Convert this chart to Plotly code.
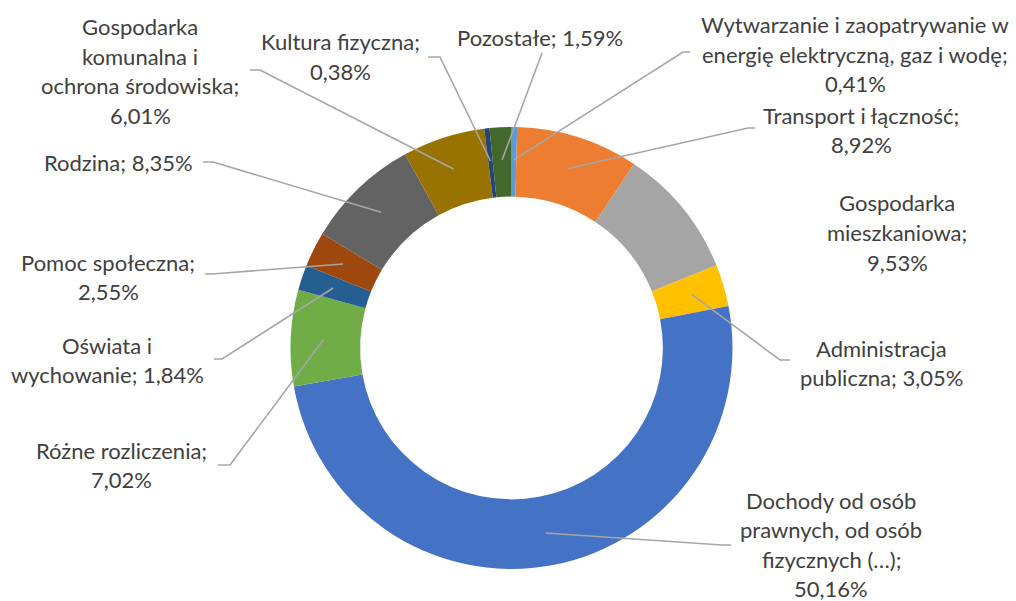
import numpy as np
import plotly.graph_objects as go

# ---- data ----
categories = [
    "Wytwarzanie i zaopatrywanie w energię elektryczną, gaz i wodę",
    "Transport i łączność",
    "Gospodarka mieszkaniowa",
    "Administracja publiczna",
    "Dochody od osób prawnych, od osób fizycznych (…)",
    "Różne rozliczenia",
    "Oświata i wychowanie",
    "Pomoc społeczna",
    "Rodzina",
    "Gospodarka komunalna i ochrona środowiska",
    "Kultura fizyczna",
    "Pozostałe",
]
shares = [0.41, 8.92, 9.53, 3.05, 50.16, 7.02, 1.84, 2.55, 8.35, 6.01, 0.38, 1.59]
value_labels = ["0,41%", "8,92%", "9,53%", "3,05%", "50,16%", "7,02%", "1,84%",
                "2,55%", "8,35%", "6,01%", "0,38%", "1,59%"]
colors = ["#5B9BD5", "#ED7D31", "#A5A5A5", "#FFC000", "#4472C4", "#70AD47",
          "#255E91", "#9E480E", "#636363", "#997300", "#264478", "#43682B"]

# label text lines (as wrapped in the original)
label_lines = [
    ["Wytwarzanie i zaopatrywanie w", "energię elektryczną, gaz i wodę;", "0,41%"],
    ["Transport i łączność;", "8,92%"],
    ["Gospodarka", "mieszkaniowa;", "9,53%"],
    ["Administracja", "publiczna; 3,05%"],
    ["Dochody od osób", "prawnych, od osób", "fizycznych (…);", "50,16%"],
    ["Różne rozliczenia;", "7,02%"],
    ["Oświata i", "wychowanie; 1,84%"],
    ["Pomoc społeczna;", "2,55%"],
    ["Rodzina; 8,35%"],
    ["Gospodarka", "komunalna i", "ochrona środowiska;", "6,01%"],
    ["Kultura fizyczna;", "0,38%"],
    ["Pozostałe; 1,59%"],
]

# ---- layout (pixels) ----
W, H = 1016, 601
CX, CY, R_OUT, HOLE = 511.5, 348.0, 221.0, 0.685
LINE_H = 29.5

# label block: (center x, y of first line)
label_pos = [(855, 25), (861, 115), (897, 203), (881, 348), (831, 500),
             (121, 450), (107, 345), (108, 262), (118, 162), (140, 27),
             (340, 42), (540, 38)]
# leader elbow and end points (None => no leader line)
leader = [((683, 52), (690, 52)), ((748, 128), (755, 128)), None,
          ((780, 360), (790, 360)), ((722, 545), (731, 545)),
          ((230, 465), (218, 465)), ((222, 359), (214, 359)),
          ((212, 274), (205, 274)), ((213, 162), (203, 162)),
          ((260, 70), (250, 70)), ((440, 57), (428, 57)), ((542, 53), (542, 53))]


def px(x):
    return x / W


def py(y):
    return 1 - y / H


fig = go.Figure()
fig.add_trace(go.Pie(
    labels=categories, values=shares, sort=False, direction="clockwise",
    rotation=0, hole=HOLE, marker=dict(colors=colors, line=dict(width=0)),
    textinfo="none", hoverinfo="label+percent", showlegend=False,
    domain=dict(x=[px(CX - R_OUT), px(CX + R_OUT)], y=[py(CY + R_OUT), py(CY - R_OUT)]),
))

# slice mid angles from the data
vals = np.array(shares, dtype=float)
frac = vals / vals.sum()
mid = np.cumsum(frac) - frac / 2
theta = 2 * np.pi * mid
r_mid = R_OUT * (1 + HOLE) / 2 + 2

shapes = []
for i, ld in enumerate(leader):
    if ld is None:
        continue
    sx = CX + r_mid * np.sin(theta[i])
    sy = CY - r_mid * np.cos(theta[i])
    (ex, ey), (tx, ty) = ld
    path = f"M {px(sx)},{py(sy)} L {px(ex)},{py(ey)} L {px(tx)},{py(ty)}"
    shapes.append(dict(type="path", xref="paper", yref="paper", path=path,
                       line=dict(color="#A6A6A6", width=1.6)))

annotations = []
for lines, (lx, ly) in zip(label_lines, label_pos):
    for k, t in enumerate(lines):
        annotations.append(dict(
            text=t, x=px(lx), y=py(ly + k * LINE_H), xref="paper", yref="paper",
            xanchor="center", yanchor="middle", showarrow=False,
            font=dict(family="Lato", size=22, color="#404040")))

fig.update_layout(
    width=W, height=H, margin=dict(l=0, r=0, t=0, b=0),
    paper_bgcolor="white", plot_bgcolor="white",
    shapes=shapes, annotations=annotations,
)

fig.write_html("out.html", config={"displayModeBar": False},
               post_script="document.body.style.margin='0';")
